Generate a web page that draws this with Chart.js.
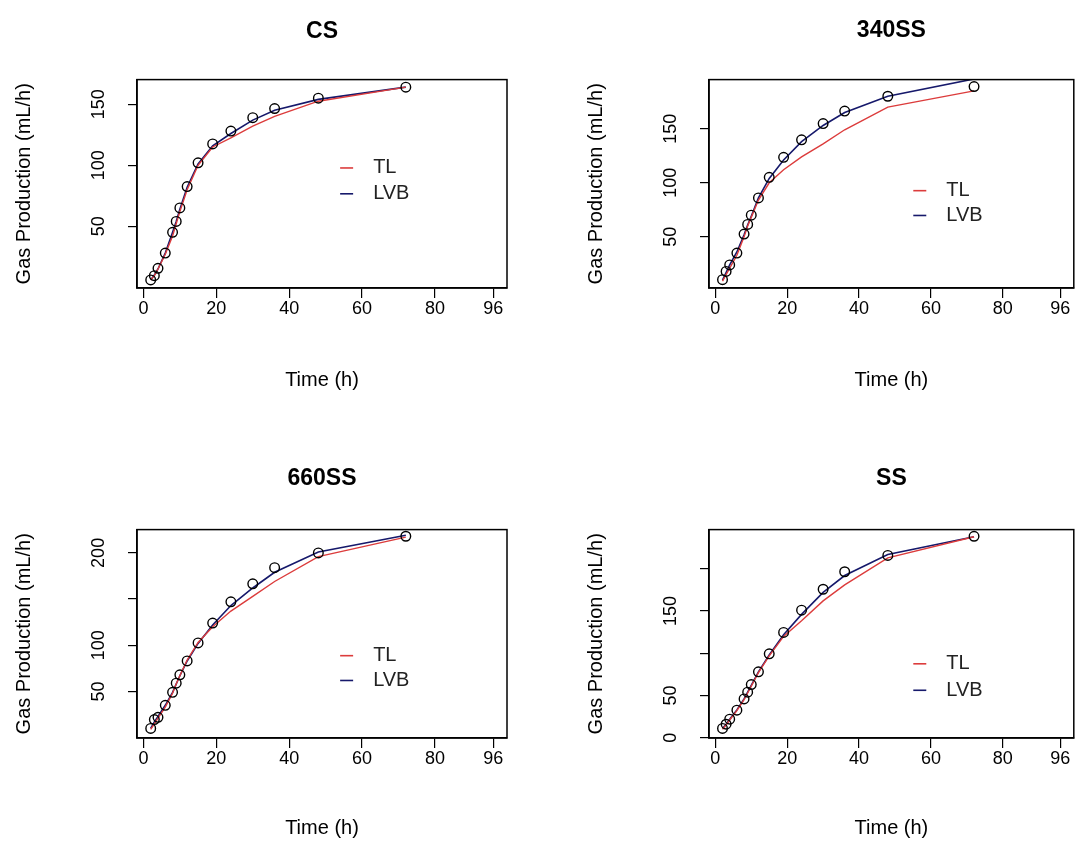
<!DOCTYPE html>
<html lang="en">
<head>
    <meta charset="UTF-8">
    <title>Gas Production - TL vs LVB</title>
    <style>
        body {
            margin: 0;
            background-color: #fff;
        }
        .wrap {
            position: relative;
            width: 1080px;
            height: 841px;
        }
        .panel {
            position: absolute;
        }
    </style>
</head>
<body>
    <div class="wrap">
        <div class="panel" style="left:0;top:0;"><canvas id="c1" width="540" height="420"></canvas></div>
        <div class="panel" style="left:540px;top:0;"><canvas id="c2" width="540" height="420"></canvas></div>
        <div class="panel" style="left:0;top:420px;"><canvas id="c3" width="540" height="421"></canvas></div>
        <div class="panel" style="left:540px;top:420px;"><canvas id="c4" width="540" height="421"></canvas></div>
    </div>

    <script src="https://cdn.jsdelivr.net/npm/chart.js"></script>
    <script>
        // incubation times (h)
        const times = [2, 3, 4, 6, 8, 9, 10, 12, 15, 19, 24, 30, 36, 48, 72];
        const xTicks = [0, 20, 40, 60, 80, 96];

        // CS
        const csObs = [6, 9.5, 15.5, 28, 45, 54, 65, 82.5, 102, 117.5, 128, 139, 146.5, 155, 164];
        const csTL  = [6, 9.5, 15, 27, 42, 52, 62, 80, 100, 115, 122.5, 132, 140, 152.5, 164];
        const csLVB = [6, 10, 15, 28, 45, 54, 64, 82, 101, 116, 126, 137, 145, 154, 164];
        const csYTicks = [50, 100, 150];
        const csYLabels = [50, 100, 150];

        // 340SS
        const s340Obs = [10.4, 18, 24, 35, 52.6, 61.5, 70, 86, 105, 123.5, 139.7, 154.7, 166.3, 180, 189];
        const s340TL  = [9, 15, 21, 33, 50, 60, 68, 84, 100, 112, 124, 136, 149, 170, 185];
        const s340LVB = [10, 17, 24, 36, 52, 61, 69, 86, 104, 121, 138, 153, 165, 180, 196];
        const s340YTicks = [50, 100, 150];
        const s340YLabels = [50, 100, 150];

        // 660SS
        const s660Obs = [10, 19.5, 22, 35, 49, 59, 68, 83, 102.5, 124, 147, 166.5, 184, 200, 218];
        const s660TL  = [9, 15, 21, 33, 48, 58, 67, 84, 103, 120, 137, 153, 169, 196, 217];
        const s660LVB = [10, 17, 23, 35, 49, 58, 67, 83, 102, 122, 143, 162, 179, 201, 219];
        const s660YTicks = [50, 100, 150, 200];
        const s660YLabels = [50, 100, 200];

        // SS
        const ssObs = [11, 16, 22, 32.6, 46, 54, 63, 78, 99.3, 124.7, 151, 175.8, 196.5, 215.8, 238.5];
        const ssTL  = [10, 15, 21, 32, 45, 53, 61, 77, 97, 120, 138.5, 162, 181, 213, 238];
        const ssLVB = [11, 16, 22, 33, 46, 54, 62, 78, 98, 122, 146, 172, 192, 217, 238];
        const ssYTicks = [0, 50, 100, 150, 200];
        const ssYLabels = [0, 50, 150];

        const FONT = '"Liberation Sans", Arial, sans-serif';
        const TL_COLOR = '#dc3c3c';
        const LVB_COLOR = '#16196b';

        const panels = [
            { id: 'c1', title: 'CS', obs: csObs, tl: csTL, lvb: csLVB, yMin: -0.6, yMax: 170.2,
              yTicks: csYTicks, yLabels: csYLabels, padL: 0, padR: 33, titlePad: { top: 18, bottom: 34 },
              xAxisH: 132, xTitlePad: 28, legend: { x: 0.549, y: [0.424, 0.548] } },
            { id: 'c2', title: '340SS', obs: s340Obs, tl: s340TL, lvb: s340LVB, yMin: 2.7, yMax: 195.4,
              yTicks: s340YTicks, yLabels: s340YLabels, padL: 32, padR: 3, titlePad: { top: 17, bottom: 35 },
              xAxisH: 132, xTitlePad: 28, legend: { x: 0.56, y: [0.533, 0.652] } },
            { id: 'c3', title: '660SS', obs: s660Obs, tl: s660TL, lvb: s660LVB, yMin: -0.4, yMax: 225.2,
              yTicks: s660YTicks, yLabels: s660YLabels, padL: 0, padR: 33, titlePad: { top: 45, bottom: 37 },
              xAxisH: 103, xTitlePad: 1, legend: { x: 0.549, y: [0.605, 0.724] } },
            { id: 'c4', title: 'SS', obs: ssObs, tl: ssTL, lvb: ssLVB, yMin: -0.3, yMax: 246.4,
              yTicks: ssYTicks, yLabels: ssYLabels, padL: 32, padR: 3, titlePad: { top: 45, bottom: 37 },
              xAxisH: 103, xTitlePad: 1, legend: { x: 0.56, y: [0.644, 0.771] } }
        ];

        // R-style extras: rotated y labels, box around plot, legend without frame
        const rStyle = {
            id: 'rStyle',
            afterDraw(chart, args, opts) {
                const { ctx, chartArea } = chart;
                const y = chart.scales.y;
                ctx.save();

                ctx.fillStyle = '#000';
                ctx.font = '18px ' + FONT;
                ctx.textAlign = 'center';
                ctx.textBaseline = 'middle';
                opts.labels.forEach(v => {
                    ctx.save();
                    ctx.translate(chartArea.left - 38, y.getPixelForValue(v));
                    ctx.rotate(-Math.PI / 2);
                    ctx.fillText(String(v), 0, 0);
                    ctx.restore();
                });

                ctx.strokeStyle = '#000';
                ctx.lineWidth = 1.5;
                ctx.strokeRect(chartArea.left, chartArea.top, chartArea.width, chartArea.height);

                // legend (TL, LVB)
                const lx = chartArea.left + opts.legend.x * chartArea.width;
                ctx.font = '20px ' + FONT;
                ctx.textAlign = 'left';
                [1, 2].forEach((di, k) => {
                    const ds = chart.data.datasets[di];
                    const ly = chartArea.top + opts.legend.y[k] * chartArea.height;
                    ctx.strokeStyle = ds.borderColor;
                    ctx.lineWidth = 1.6;
                    ctx.beginPath();
                    ctx.moveTo(lx, ly);
                    ctx.lineTo(lx + 13, ly);
                    ctx.stroke();
                    ctx.fillStyle = '#222';
                    ctx.fillText(ds.label, lx + 33, ly);
                });
                ctx.restore();
            }
        };

        function toPts(arr) {
            return times.map((t, i) => ({ x: t, y: arr[i] }));
        }

        panels.forEach(p => {
            new Chart(document.getElementById(p.id), {
                type: 'scatter',
                data: {
                    datasets: [
                        {
                            label: 'Observed',
                            data: toPts(p.obs),
                            showLine: false,
                            pointRadius: 4.8,
                            pointBorderWidth: 1.4,
                            pointBorderColor: '#000',
                            pointBackgroundColor: 'rgba(0,0,0,0)'
                        },
                        {
                            label: 'TL',
                            data: toPts(p.tl),
                            showLine: true,
                            borderColor: TL_COLOR,
                            borderWidth: 1.4,
                            pointRadius: 0,
                            tension: 0
                        },
                        {
                            label: 'LVB',
                            data: toPts(p.lvb),
                            showLine: true,
                            borderColor: LVB_COLOR,
                            borderWidth: 1.6,
                            pointRadius: 0,
                            tension: 0
                        }
                    ]
                },
                options: {
                    responsive: false,
                    animation: false,
                    events: [],
                    layout: { padding: { left: p.padL, right: p.padR, top: 0, bottom: 0 } },
                    scales: {
                        x: {
                            type: 'linear',
                            min: -1.76,
                            max: 99.76,
                            afterBuildTicks: s => { s.ticks = xTicks.map(v => ({ value: v })); },
                            afterFit: s => { s.height = p.xAxisH; },
                            ticks: {
                                autoSkip: false,
                                maxRotation: 0,
                                padding: 0,
                                color: '#000',
                                font: { size: 18, family: FONT }
                            },
                            grid: { drawOnChartArea: false, tickLength: 10, color: '#000', lineWidth: 1.2 },
                            border: { display: true, color: '#000', width: 1.5 },
                            title: {
                                display: true,
                                text: 'Time (h)',
                                color: '#000',
                                font: { size: 20, family: FONT },
                                padding: { top: 0, bottom: p.xTitlePad }
                            }
                        },
                        y: {
                            type: 'linear',
                            min: p.yMin,
                            max: p.yMax,
                            afterBuildTicks: s => { s.ticks = p.yTicks.map(v => ({ value: v })); },
                            afterFit: s => { s.width = 137; },
                            ticks: { display: false },
                            grid: { drawOnChartArea: false, tickLength: 9, color: '#000', lineWidth: 1.2 },
                            border: { display: true, color: '#000', width: 1.5 },
                            title: {
                                display: true,
                                text: 'Gas Production (mL/h)',
                                color: '#000',
                                font: { size: 20, family: FONT },
                                padding: { top: 12, bottom: 0 }
                            }
                        }
                    },
                    plugins: {
                        legend: { display: false },
                        tooltip: { enabled: false },
                        title: {
                            display: true,
                            text: p.title,
                            fullSize: false,
                            color: '#000',
                            font: { size: 23, weight: 'bold', family: FONT },
                            padding: p.titlePad
                        },
                        rStyle: { labels: p.yLabels, legend: p.legend }
                    }
                },
                plugins: [rStyle]
            });
        });
    </script>
</body>
</html>
